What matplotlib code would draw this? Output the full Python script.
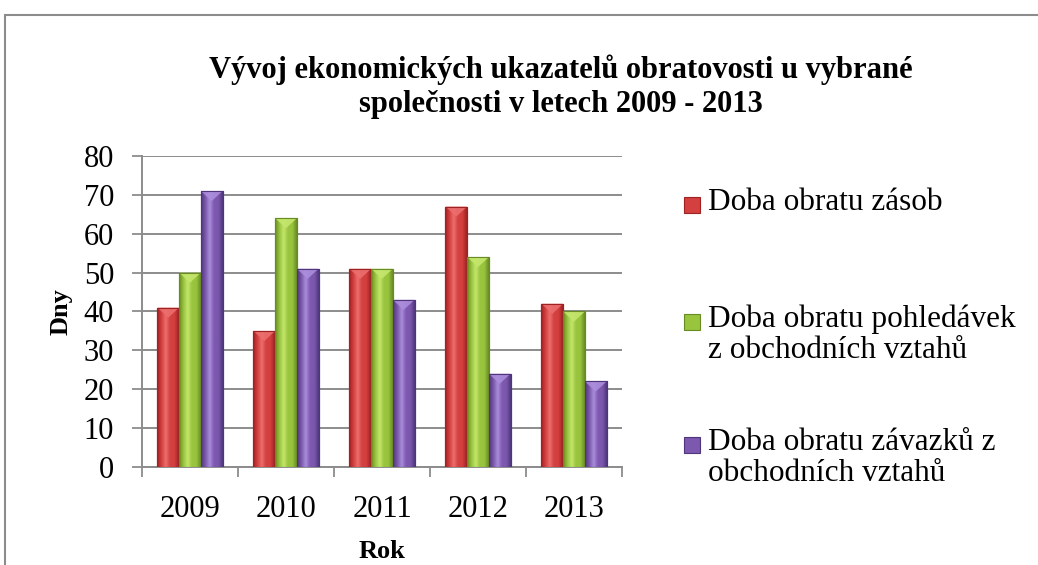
import numpy as np
import matplotlib
matplotlib.use("Agg")
import matplotlib.pyplot as plt
from matplotlib.patches import Rectangle, Polygon
from matplotlib.colors import LinearSegmentedColormap

years = ["2009", "2010", "2011", "2012", "2013"]
zasoby = [41, 35, 51, 67, 42]
pohledavky = [50, 64, 51, 54, 40]
zavazky = [71, 51, 43, 24, 22]
series_labels = ["Doba obratu zásob",
                 "Doba obratu pohledávek\nz obchodních vztahů",
                 "Doba obratu závazků z\nobchodních vztahů"]
title = "Vývoj ekonomických ukazatelů obratovosti u vybrané\nspolečnosti v letech 2009 - 2013"
yticks = [0, 10, 20, 30, 40, 50, 60, 70, 80]

plt.rcParams['font.family'] = ['Liberation Serif', 'DejaVu Serif']

W, H = 1038, 565
fig = plt.figure(figsize=(W / 100, H / 100), dpi=100)
ax = fig.add_axes([142 / W, 1 - 467 / H, 480 / W, 311 / H])

grid_c = "#8c8c8c"
styles = [
    ("#d43f3f", "#9e2222", "#ec6e6e"),
    ("#98c43e", "#688c24", "#c4e66c"),
    ("#7c58ae", "#4f367c", "#ab8ddc"),
]
x = np.arange(len(years))
bw = 0.226
series = [zasoby, pohledavky, zavazky]
for i, (vals, (mid, edge, light)) in enumerate(zip(series, styles)):
    bars = ax.bar(x + (i - 1) * bw, vals, width=bw, color=mid,
                  edgecolor=edge, linewidth=0.8, zorder=3)
    cmap = LinearSegmentedColormap.from_list(
        "g%d" % i, [edge, mid, light, mid, mid, edge])
    grad = np.linspace(0, 1, 64).reshape(1, -1)
    for b in bars:
        x0, y0 = b.get_x(), b.get_y()
        w, h = b.get_width(), b.get_height()
        im = ax.imshow(grad, cmap=cmap, aspect="auto",
                       extent=(x0, x0 + w, y0, y0 + h), zorder=3.5,
                       interpolation="bicubic")
        im.set_clip_path(b)
        tri = Polygon([(x0, y0 + h), (x0 + w, y0 + h),
                       (x0 + w / 2, y0 + h - 2.6)], closed=True,
                      facecolor=light, edgecolor="none", alpha=0.9,
                      zorder=3.6)
        ax.add_patch(tri)
        ax.add_patch(Rectangle((x0, y0), w, h, facecolor="none",
                               edgecolor=edge, linewidth=0.8, zorder=3.7))

ax.set_xlim(-0.5, len(years) - 0.5)
ax.set_ylim(0, 80)
ax.set_yticks(yticks)
ax.set_yticklabels([str(t) for t in yticks], fontsize=22)
ax.set_xticks(x)
ax.set_xticklabels(years, fontsize=22)
ax.set_xticks(np.arange(len(years) + 1) - 0.5, minor=True)
ax.tick_params(axis="x", which="major", length=0, pad=20)
ax.tick_params(axis="x", which="minor", length=7, width=1.3, color=grid_c,
               direction="out")
ax.tick_params(axis="y", length=7, width=1.3, color=grid_c, pad=13)
ax.grid(axis="y", color=grid_c, linewidth=1.4, zorder=0)
ax.set_axisbelow(True)
for s in ["top", "right"]:
    ax.spines[s].set_visible(False)
for s in ["left", "bottom"]:
    ax.spines[s].set_color(grid_c)
    ax.spines[s].set_linewidth(1.4)

ax.set_ylabel("Dny", fontsize=19, fontweight="bold", labelpad=8)
ax.set_xlabel("Rok", fontsize=19, fontweight="bold", labelpad=12)

fig.text(561 / W, 1 - 87 / H, title, ha="center", va="center",
         fontsize=22, fontweight="bold", linespacing=1.22)

# legend (manual)
leg_y = [205, 322, 445]
for (mid, edge, light), lab, yy in zip(styles, series_labels, leg_y):
    fig.patches.append(Rectangle((684 / W, 1 - (yy + 8) / H), 16 / W, 16 / H,
                                 facecolor=mid, edgecolor=edge, linewidth=0.8,
                                 transform=fig.transFigure, figure=fig))
    fig.text(708 / W, 1 - (yy - 17) / H, lab, ha="left", va="top",
             fontsize=22.5, linespacing=1.08)

# outer frame
fig.patches.append(Rectangle((5 / W, -0.05), 1.2, 1 - 15 / H + 0.05,
                             facecolor="none", edgecolor="#8c8c8c",
                             linewidth=1.5, transform=fig.transFigure,
                             figure=fig))

fig.savefig("out.png", dpi=100)
